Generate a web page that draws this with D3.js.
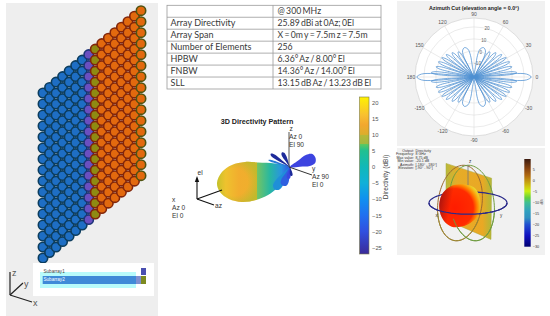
<!DOCTYPE html>
<html>
<head>
<meta charset="utf-8">
<script src="https://cdn.jsdelivr.net/npm/d3@7"></script>
<style>
html, body { margin: 0; padding: 0; background: #fff; }
svg { display: block; }
text { font-family: "Liberation Sans", sans-serif; }
</style>
</head>
<body>
<script>
// array layout
var elementColumns = d3.range(16);
var elementRows = d3.range(16);
var subarrayNames = ["Subarray1", "Subarray2"];

// table
var tableLabels = ["", "Array Directivity", "Array Span", "Number of Elements", "HPBW", "FNBW", "SLL"];
var tableValues = ["@ 300 MHz", "25.89 dBi at 0Az; 0El", "X = 0m y = 7.5m z = 7.5m", "256",
    "6.36° Az / 8.00° El", "14.36° Az / 14.00° El", "13.15 dB Az / 13.23 dB El"];

// azimuth cut: lobe peak angle (deg), peak directivity (dBi), half width (deg)
var lobeAngles = [0, 180,
    6, 15, 23, 31, 39, 48, 58, 72,
    -6, -15, -23, -31, -39, -48, -58, -72,
    174, 165, 157, 149, 141, 132, 122, 108,
    -174, -165, -157, -149, -141, -132, -122, -108];
var lobePeaks = [25.89, 25.89,
    14, 11, 10.5, 9.5, 8, 5.5, 3, 4,
    14, 11, 10.5, 9.5, 8, 5.5, 3, 4,
    14, 11, 10.5, 9.5, 8, 5.5, 3, 4,
    14, 11, 10.5, 9.5, 8, 5.5, 3, 4];
var lobeWidths = [3.6, 3.6,
    2, 2, 2, 2, 2.2, 2.6, 3, 6.5,
    2, 2, 2, 2, 2.2, 2.6, 3, 6.5,
    2, 2, 2, 2, 2.2, 2.6, 3, 6.5,
    2, 2, 2, 2, 2.2, 2.6, 3, 6.5];
var thetaTicks = [0, 30, 60, 90, 120, 150, 180, -150, -120, -90, -60, -30];
var radialTicks = [-10, 0, 10, 20];

// 3D pattern
var mainLobeX = [1, .795, .562, .384, .205, .068, 0, .041, .164, .342, .534, .699, .822, .918];
var mainLobeY = [.122, .037, .012, 0, .073, .244, .512, .732, .902, .976, .927, .805, .634, .366];
var sideLobeAngles = [20, 146, 118, 162, 236, 250, 262, 280];
var sideLobeLevels = [8.8, 7.6, 5.4, 7.4, 8.8, 6.5, 3.9, 3];
var sideLobeWidths = [2, .6, .65, .35, 1.5, 1.3, .65, .45];
var sideLobeColors = ["#3d44e0", "#1d2a9a", "#1d2a9a", "#2a7ad8", "#1f8fd8", "#2f60e0", "#3a48e0", "#1d2a9a"];
var directivityTicks = [20, 15, 10, 5, 0, -5, -10, -15, -20, -25];
var directivityStops = [21.6, 16, 13, 10, 9.9, 7, 6.9, 5, 0, -5, -10, -15, -20, -27];
var directivityColors = ["#fff200", "#f8c030", "#f2a82e", "#dcae2c", "#b8b838", "#a0b840", "#5cc860",
    "#20c090", "#10b8b8", "#10b0d8", "#1090f0", "#2070f0", "#3050e0", "#3a2a98"];

// bottom right pattern
var planeX = [-.55, .59, .575, -.55];
var planeY = [.99, .62, -.91, -.425];
var blobX = [-.658, -.45, -.158, .175, .3, .258, -.033, -.408, -.617, -.717];
var blobY = [.2, .408, .467, .367, .075, -.3, -.55, -.592, -.425, -.133];
var infoKeys = ["Output", "Frequency", "Max value", "Min value", "Azimuth", "Elevation"];
var infoValues = ["Directivity", "8 GHz", "8.75 dB", "-20.1 dB", "[-180° - 180°]", "[-90° - 90°]"];
var gainTicks = [5, 0, -5, -10, -15, -20, -25, -30];
var gainStops = [9.5, 5, 2, 0, -3, -5, -8, -10, -14, -17, -20, -25, -30];
var gainColors = ["#3a1a10", "#8a4510", "#b06a10", "#c09010", "#d0c810", "#c8f010", "#60d040",
    "#40c090", "#30a0c0", "#3090c0", "#2050d0", "#1010c0", "#000070"];

var svg = d3.select("body").append("svg").attr("width", 550).attr("height", 316);
var defs = svg.append("defs");

// outline of one lobe, along = 0..1, across = -1..1
var lobeAlong = [0, .35, .7, .92, 1, .92, .7, .35];
var lobeAcross = [0, .5, .95, .8, 0, -.8, -.95, -.5];
var closedLine = d3.line().curve(d3.curveCatmullRomClosed);

function lobePath(cx, cy, deg, len, half) {
    var a = deg * Math.PI / 180;
    return closedLine(lobeAlong.map(function (t, i) {
        var u = t * len, v = lobeAcross[i] * half;
        return [cx + u * Math.cos(a) + v * Math.sin(a), cy - u * Math.sin(a) + v * Math.cos(a)];
    }));
}

function addGradient(id, stops, colors, scale) {
    var g = defs.append("linearGradient").attr("id", id)
        .attr("x1", 0).attr("x2", 0).attr("y1", 0).attr("y2", 1);
    stops.forEach(function (s, i) {
        g.append("stop").attr("offset", scale(s)).attr("stop-color", colors[i]);
    });
}

// ---- element array panel
svg.append("rect").attr("x", 6).attr("y", 3).attr("width", 152).attr("height", 313).attr("fill", "#eeeeee");

var colX = d3.scaleLinear().domain([0, 15]).range([43, 141]);
var rowY = d3.scaleLinear().domain([0, 15]).range([93, 258]);
var colShift = d3.scaleLinear().domain([0, 15]).range([0, -82.3]);
var colFill = d3.scaleThreshold().domain([7, 8, 9]).range(["#1e6ec4", "#6a4fc0", "#8f8a12", "#e2690e"]);
var colStroke = d3.scaleThreshold().domain([7, 8, 15]).range(["#0c3d5e", "#1d3478", "#82260a", "#4f5210"]);

var elements = [];
elementColumns.forEach(function (c) {
    elementRows.forEach(function (r) { elements.push({ c: c, r: r }); });
});
svg.append("g").selectAll("circle").data(elements).enter().append("circle")
    .attr("cx", function (d) { return colX(d.c); })
    .attr("cy", function (d) { return rowY(d.r) + colShift(d.c); })
    .attr("r", 4.7)
    .attr("fill", function (d) { return colFill(d.c); })
    .attr("stroke", function (d) { return colStroke(d.c); })
    .attr("stroke-width", 1.6);

// legend
svg.append("rect").attr("x", 33).attr("y", 263).attr("width", 121).attr("height", 33).attr("fill", "#fff");
svg.append("rect").attr("x", 40).attr("y", 272).attr("width", 96).attr("height", 16).attr("fill", "#b8fbfb");
svg.append("rect").attr("x", 42.7).attr("y", 276).attr("width", 93.3).attr("height", 8).attr("fill", "#3f8ad8");
svg.append("rect").attr("x", 136).attr("y", 276).attr("width", 5).attr("height", 8).attr("fill", "#7f8fd0");
svg.append("rect").attr("x", 141).attr("y", 268).attr("width", 5).attr("height", 7).attr("fill", "#4a4fb0");
svg.append("rect").attr("x", 141).attr("y", 276).attr("width", 5).attr("height", 8).attr("fill", "#7d8a20");
svg.selectAll("text.legend").data(subarrayNames).enter().append("text").attr("class", "legend")
    .attr("x", 43.5)
    .attr("y", function (d, i) { return 272.8 + i * 8.6; })
    .attr("font-size", 4.6)
    .attr("fill", function (d, i) { return i ? "#fff" : "#444"; })
    .text(function (d) { return d; });

// xyz triad
var triad = [["z", 10, 272, 12, 276], ["y", 23, 283, 24, 287], ["x", 32, 302, 33, 306]];
triad.forEach(function (t) {
    svg.append("line").attr("x1", 10).attr("y1", 295).attr("x2", t[1]).attr("y2", t[2])
        .attr("stroke", "#222").attr("stroke-width", 1.2);
    svg.append("text").attr("x", t[3]).attr("y", t[4]).attr("font-size", 9).attr("fill", "#555").text(t[0]);
});

// ---- table
var rowBand = d3.scaleBand().domain(d3.range(tableLabels.length)).range([5.3, 89]);
var table = svg.append("g");
table.append("rect").attr("x", 167).attr("y", 5.3).attr("width", 214).attr("height", 83.7)
    .attr("fill", "#fff").attr("stroke", "#9a9a9a").attr("stroke-width", 0.8);
table.append("line").attr("x1", 273).attr("x2", 273).attr("y1", 5.3).attr("y2", 89)
    .attr("stroke", "#9a9a9a").attr("stroke-width", 0.8);
table.selectAll("line.row").data(d3.range(1, tableLabels.length)).enter().append("line").attr("class", "row")
    .attr("x1", 167).attr("x2", 381)
    .attr("y1", function (d) { return rowBand(d); }).attr("y2", function (d) { return rowBand(d); })
    .attr("stroke", "#9a9a9a").attr("stroke-width", 0.8);
[[tableLabels, 170.5, 9, 0], [tableValues, 277.5, 8.7, -.9]].forEach(function (col) {
    table.selectAll(null).data(col[0]).enter().append("text")
        .attr("x", col[1])
        .attr("y", function (d, i) { return rowBand(i) + rowBand.bandwidth() / 2 + 3.2; })
        .attr("font-size", col[2])
        .attr("word-spacing", col[3])
        .attr("fill", "#3a3a3a")
        .style("font-family", "Lato")
        .text(function (d) { return d; });
});

// ---- 3D directivity pattern
svg.append("text").attr("x", 257).attr("y", 124).attr("text-anchor", "middle")
    .attr("font-size", 7.2).attr("font-weight", "bold").attr("fill", "#222").text("3D Directivity Pattern");

var lobeX = d3.scaleLinear().domain([0, 1]).range([217, 290]);
var lobeY = d3.scaleLinear().domain([0, 1]).range([162, 203]);
var lobeLen = d3.scaleLinear().domain([0, 25]).range([0, 77]);

var mainGrad = defs.append("linearGradient").attr("id", "mainLobe").attr("x1", 0).attr("x2", 1).attr("y1", 0).attr("y2", 0);
[[0, "#c8c22a"], [.12, "#eec22e"], [.3, "#f2ad2e"], [.548, "#eeb02c"], [.548, "#74c464"],
    [.72, "#28b8a0"], [.88, "#2a94e0"], [1, "#3050e0"]].forEach(function (s) {
    mainGrad.append("stop").attr("offset", s[0]).attr("stop-color", s[1]);
});
var rimGrad = defs.append("radialGradient").attr("id", "mainRim")
    .attr("gradientUnits", "userSpaceOnUse").attr("cx", 234).attr("cy", 182).attr("r", 25);
[[0, 0], [.55, 0], [1, .75]].forEach(function (s) {
    rimGrad.append("stop").attr("offset", s[0]).attr("stop-color", "#b4bc2c").attr("stop-opacity", s[1]);
});
var mainPts = mainLobeX.map(function (x, i) { return [lobeX(x), lobeY(mainLobeY[i])]; });
svg.append("path").attr("d", closedLine(mainPts)).attr("fill", "url(#mainLobe)");
defs.append("clipPath").attr("id", "mainClip").append("path").attr("d", closedLine(mainPts));
svg.append("rect").attr("x", 215).attr("y", 160).attr("width", 42).attr("height", 44)
    .attr("fill", "url(#mainRim)").attr("clip-path", "url(#mainClip)");

var nodeX = lobeX(1), nodeY = lobeY(.122);
svg.append("g").selectAll("path").data(sideLobeAngles).enter().append("path")
    .attr("d", function (d, i) {
        return lobePath(nodeX, nodeY, d, lobeLen(sideLobeLevels[i]), lobeLen(sideLobeWidths[i]));
    })
    .attr("fill", function (d, i) { return sideLobeColors[i]; });

var axisColor = "#333";
svg.append("line").attr("x1", 289).attr("y1", 167).attr("x2", 289).attr("y2", 132).attr("stroke", "#555").attr("stroke-width", 1);
svg.append("line").attr("x1", 289).attr("y1", 167).attr("x2", 312).attr("y2", 175).attr("stroke", axisColor).attr("stroke-width", 1);
svg.append("line").attr("x1", 197).attr("y1", 199).attr("x2", 222).attr("y2", 190).attr("stroke", "#111").attr("stroke-width", 1.1);
svg.append("line").attr("x1", 197).attr("y1", 199).attr("x2", 214).attr("y2", 205).attr("stroke", "#111").attr("stroke-width", 1.1);
svg.append("line").attr("x1", 197).attr("y1", 199).attr("x2", 197).attr("y2", 180).attr("stroke", "#111").attr("stroke-width", 1.1);
svg.append("path").attr("d", closedLine.curve(d3.curveLinearClosed)([[197, 176], [199.2, 182], [194.8, 182]])).attr("fill", "#111");
closedLine.curve(d3.curveCatmullRomClosed);

var patternLabels = [["z", 289.5, 131], ["Az 0", 289, 139], ["El 90", 289, 147], ["y", 312, 171], ["Az 90", 312, 179],
    ["El 0", 312, 187], ["x", 172, 202], ["Az 0", 172, 210], ["El 0", 172, 218], ["el", 197.5, 175], ["az", 215, 208]];
svg.append("g").selectAll("text").data(patternLabels).enter().append("text")
    .attr("x", function (d) { return d[1]; }).attr("y", function (d) { return d[2]; })
    .attr("font-size", 6.6).attr("fill", "#333").text(function (d) { return d[0]; });

// colorbar
var dirY = d3.scaleLinear().domain([21.6, -27]).range([97, 254]);
var dirOffset = d3.scaleLinear().domain([21.6, -27]).range([0, 1]);
addGradient("dirBar", directivityStops, directivityColors, dirOffset);
svg.append("rect").attr("x", 359.5).attr("y", 97).attr("width", 9.5).attr("height", 157)
    .attr("fill", "url(#dirBar)").attr("stroke", "#7a7a4a").attr("stroke-width", 0.6);
var dirAxis = d3.axisRight(dirY).tickValues(directivityTicks).tickSize(0).tickPadding(3);
var dirG = svg.append("g").attr("transform", "translate(369,0)").call(dirAxis);
dirG.select(".domain").remove();
dirG.selectAll("text").attr("font-size", 5.8).attr("fill", "#555").style("font-family", "Liberation Sans");
svg.append("text").attr("transform", "translate(388,177) rotate(-90)").attr("text-anchor", "middle")
    .attr("font-size", 6.6).attr("fill", "#444").text("Directivity (dBi)");

// ---- azimuth cut
svg.append("rect").attr("x", 397).attr("y", 1).attr("width", 148).attr("height", 145).attr("fill", "#f1f1f1");
svg.append("text").attr("x", 474).attr("y", 10).attr("text-anchor", "middle")
    .attr("font-size", 5.3).attr("font-weight", "bold").attr("fill", "#222").text("Azimuth Cut (elevation angle = 0.0°)");

var polarX = 474, polarY = 77;
var polarR = d3.scaleLinear().domain([-21.7, 27.4]).range([0, 59]);
var polar = svg.append("g");
polar.append("circle").attr("cx", polarX).attr("cy", polarY).attr("r", polarR(27.4)).attr("fill", "#fff").attr("stroke", "#c9c9c9").attr("stroke-width", 0.6);
polar.selectAll("circle.ring").data(radialTicks).enter().append("circle").attr("class", "ring")
    .attr("cx", polarX).attr("cy", polarY).attr("r", function (d) { return polarR(d); })
    .attr("fill", "none").attr("stroke", "#dedede").attr("stroke-width", 0.6);

function polarPoint(deg, r) {
    var a = deg * Math.PI / 180;
    return [polarX + r * Math.cos(a), polarY - r * Math.sin(a)];
}
polar.selectAll("line").data(thetaTicks).enter().append("line")
    .attr("x1", polarX).attr("y1", polarY)
    .attr("x2", function (d) { return polarPoint(d, polarR(27.4))[0]; })
    .attr("y2", function (d) { return polarPoint(d, polarR(27.4))[1]; })
    .attr("stroke", "#dedede").attr("stroke-width", 0.6);
polar.selectAll("text.theta").data(thetaTicks.concat([])).enter().append("text").attr("class", "theta")
    .attr("x", function (d) { return polarPoint(d, polarR(27.4) + 4)[0]; })
    .attr("y", function (d) { return polarPoint(d, polarR(27.4) + 4)[1] + 1.8; })
    .attr("text-anchor", "middle").attr("font-size", 5).attr("fill", "#555")
    .text(function (d) { return d; });
polar.selectAll("text.radial").data(radialTicks).enter().append("text").attr("class", "radial")
    .attr("x", function (d) { return polarPoint(75, polarR(d))[0]; })
    .attr("y", function (d) { return polarPoint(75, polarR(d))[1] + 1.8; })
    .attr("text-anchor", "middle").attr("font-size", 4.6).attr("fill", "#666")
    .text(function (d) { return d; });
polar.selectAll("path").data(lobeAngles).enter().append("path")
    .attr("d", function (d, i) {
        var r = polarR(lobePeaks[i]);
        return lobePath(polarX, polarY, d, r, r * Math.tan(lobeWidths[i] * Math.PI / 180));
    })
    .attr("fill", "none").attr("stroke", "#4c8fd2").attr("stroke-width", 0.75);

// ---- bottom right pattern
svg.append("rect").attr("x", 397).attr("y", 148).attr("width", 148).attr("height", 107).attr("fill", "#f1f1f1");
var sx = d3.scaleLinear().domain([-1, 1]).range([428, 508]);
var sy = d3.scaleLinear().domain([-1, 1]).range([243, 163]);

var infoG = svg.append("g").attr("font-size", 3.6).attr("fill", "#333");
infoKeys.forEach(function (k, i) {
    infoG.append("text").attr("x", 414).attr("y", 151.5 + i * 3.5).attr("text-anchor", "end").text(k + ":");
    infoG.append("text").attr("x", 415.5).attr("y", 151.5 + i * 3.5).text(infoValues[i]);
});

var planeGrad = defs.append("linearGradient").attr("id", "plane").attr("x1", 0).attr("x2", 1).attr("y1", 0).attr("y2", 0);
[[0, "#b8ba3c"], [.25, "#e6ac28"], [.8, "#eaa824"], [1, "#b0b838"]].forEach(function (s) {
    planeGrad.append("stop").attr("offset", s[0]).attr("stop-color", s[1]);
});
var planeLine = d3.line().curve(d3.curveLinearClosed);
svg.append("path").attr("d", planeLine(planeX.map(function (x, i) { return [sx(x), sy(planeY[i])]; })))
    .attr("fill", "url(#plane)").attr("stroke", "#a8a838").attr("stroke-width", 0.5);

function ring(cx, cy, rx, ry, rot, from, to) {
    var r = rot * Math.PI / 180;
    var pts = d3.range(from, to + 1, 4).map(function (deg) {
        var a = deg * Math.PI / 180;
        var u = rx * Math.cos(a), v = ry * Math.sin(a);
        var px = u * Math.cos(r) - v * Math.sin(r), py = u * Math.sin(r) + v * Math.cos(r);
        return [sx(cx + px), sy(cy + py)];
    });
    return d3.line()(pts);
}
var rings = svg.append("g").attr("fill", "none");
rings.append("path").attr("d", ring(-.2, 0, .55, .95, -8, 0, 360)).attr("stroke", "#9a6a30").attr("stroke-width", 1);
rings.append("path").attr("d", ring(.1, 0, .55, .95, 8, 0, 360)).attr("stroke", "#6f9c40").attr("stroke-width", 1);
rings.append("path").attr("d", ring(0, 0, .975, .28, 0, 0, 360)).attr("stroke", "#2a2a8a").attr("stroke-width", 1.2);
svg.append("line").attr("x1", sx(0)).attr("x2", sx(0)).attr("y1", sy(.95)).attr("y2", sy(.3)).attr("stroke", "#777").attr("stroke-width", 0.8);

var blobGrad = defs.append("radialGradient").attr("id", "blob").attr("cx", .38).attr("cy", .55).attr("r", .66);
[[0, "#ff1c00"], [.68, "#ff2c00"], [.82, "#ff8200"], [.93, "#f4bc1c"], [1, "#e8d830"]].forEach(function (s) {
    blobGrad.append("stop").attr("offset", s[0]).attr("stop-color", s[1]);
});
var shadeGrad = defs.append("linearGradient").attr("id", "blobShade").attr("x1", 0).attr("x2", 1).attr("y1", .3).attr("y2", .5);
[[0, .75], [.3, 0]].forEach(function (s) {
    shadeGrad.append("stop").attr("offset", s[0]).attr("stop-color", "#8a0a14").attr("stop-opacity", s[1]);
});
var blobD = closedLine(blobX.map(function (x, i) { return [sx(x), sy(blobY[i])]; }));
svg.append("path").attr("d", blobD).attr("fill", "url(#blob)");
svg.append("path").attr("d", blobD).attr("fill", "url(#blobShade)");

// front halves of the rings go over the pattern
var ringsFront = svg.append("g").attr("fill", "none");
ringsFront.append("path").attr("d", ring(-.2, 0, .55, .95, -8, 200, 340)).attr("stroke", "#9a8a30").attr("stroke-width", 1);
ringsFront.append("path").attr("d", ring(.1, 0, .55, .95, 8, 200, 340)).attr("stroke", "#6f9c40").attr("stroke-width", 1);
ringsFront.append("path").attr("d", ring(0, 0, .975, .28, 0, 180, 360)).attr("stroke", "#2a2a8a").attr("stroke-width", 1.2);
svg.append("g").selectAll("text").data([["z", 469, 163], ["x", 435.5, 217], ["y", 500, 217]]).enter().append("text")
    .attr("x", function (d) { return d[1]; }).attr("y", function (d) { return d[2]; })
    .attr("font-size", 4.5).attr("fill", "#333").text(function (d) { return d[0]; });

var gainY = d3.scaleLinear().domain([9.5, -30]).range([159, 246.7]);
var gainOffset = d3.scaleLinear().domain([9.5, -30]).range([0, 1]);
addGradient("gainBar", gainStops, gainColors, gainOffset);
svg.append("rect").attr("x", 524.3).attr("y", 159).attr("width", 6.4).attr("height", 87.7).attr("fill", "url(#gainBar)");
var gainAxis = d3.axisRight(gainY).tickValues(gainTicks).tickSize(0).tickPadding(2);
var gainG = svg.append("g").attr("transform", "translate(530.7,0)").call(gainAxis);
gainG.select(".domain").remove();
gainG.selectAll("text").attr("font-size", 3.8).attr("fill", "#333").style("font-family", "Liberation Sans");
svg.append("text").attr("transform", "translate(542.5,202) rotate(-90)").attr("text-anchor", "middle")
    .attr("font-size", 3.8).attr("fill", "#333").text("dBi");
</script>
</body>
</html>
